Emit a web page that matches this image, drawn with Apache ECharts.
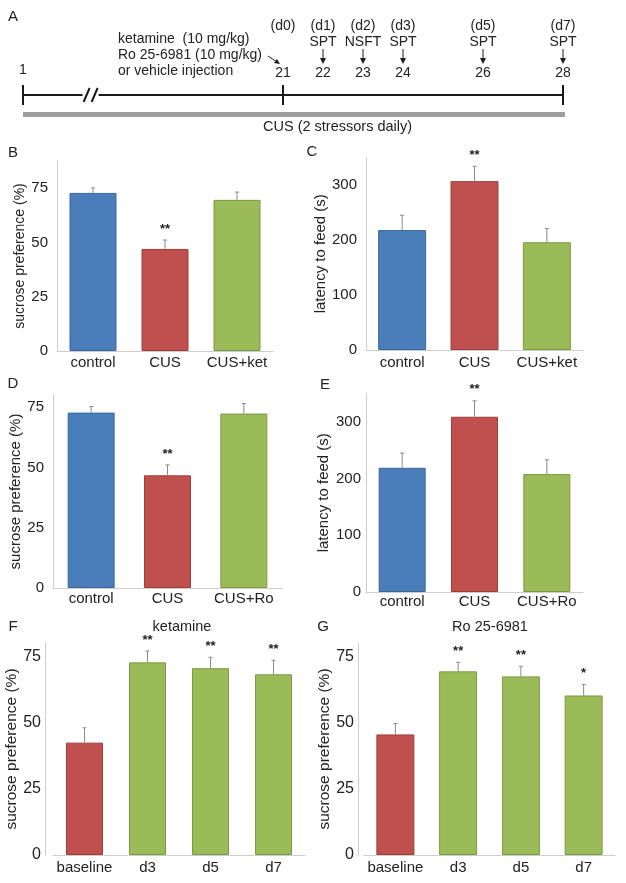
<!DOCTYPE html>
<html><head><meta charset="utf-8">
<script src="https://cdn.jsdelivr.net/npm/echarts@6/dist/echarts.min.js"></script>
<style>html,body{margin:0;padding:0;background:#fff}#c{width:626px;height:883px}</style>
</head><body><div id="c"></div>
<script>
// ---------------- data ----------------
const catsB = ['control', 'CUS', 'CUS+ket'];
const meansB = [72.8, 47.0, 69.6];
const semB = [2.3, 4.1, 3.6];
const starsB = ['', '**', ''];

const catsC = ['control', 'CUS', 'CUS+ket'];
const meansC = [218, 307, 196];
const semC = [27, 27, 25];
const starsC = ['', '**', ''];

const catsD = ['control', 'CUS', 'CUS+Ro'];
const meansD = [72.7, 46.7, 72.3];
const semD = [2.5, 4.3, 4.2];
const starsD = ['', '**', ''];

const catsE = ['control', 'CUS', 'CUS+Ro'];
const meansE = [219, 309, 208];
const semE = [26, 28, 25];
const starsE = ['', '**', ''];

const catsF = ['baseline', 'd3', 'd5', 'd7'];
const meansF = [42.4, 72.7, 70.5, 68.2];
const semF = [5.6, 4.3, 4.1, 5.3];
const starsF = ['', '**', '**', '**'];

const catsG = ['baseline', 'd3', 'd5', 'd7'];
const meansG = [45.5, 69.3, 67.4, 60.2];
const semG = [4.1, 3.4, 3.8, 4.2];
const starsG = ['', '**', '**', '*'];

const groupsBCDE = ['blue', 'red', 'green'];
const groupsFG = ['red', 'green', 'green', 'green'];

const yTicksPct = [0, 25, 50, 75];
const yTicksLat = [0, 100, 200, 300];

// timeline (panel A)
const tlFirstDay = 1;
const tlDays = [21, 22, 23, 24, 26, 28];
const tlDayLabels = ['(d0)', '(d1)', '(d2)', '(d3)', '(d5)', '(d7)'];
const tlTests = ['', 'SPT', 'NSFT', 'SPT', 'SPT', 'SPT'];
const tlInjection = ['ketamine  (10 mg/kg)', 'Ro 25-6981 (10 mg/kg)', 'or vehicle injection'];
const tlCus = 'CUS (2 stressors daily)';

// ---------------- styles ----------------
const FONT = '"Liberation Sans", Arial, Helvetica, sans-serif';
const TXT = '#222';
const AXIS = '#cdcdcd';
const PAL = {
  blue: { fill: '#4a7ebb', border: '#3b679c' },
  red: { fill: '#c0504d', border: '#9c3e3b' },
  green: { fill: '#9bbb59', border: '#7d9945' }
};

const panels = [
  { cats: catsB, means: meansB, sem: semB, stars: starsB, groups: groupsBCDE, ticks: yTicksPct, max: 87.5, step: 25,
    name: 'sucrose preference (%)', grid: { left: 57, top: 161, width: 216, height: 190 }, barWidth: 47,
    nameGap: 25, nameSize: 14, tickSize: 15, catSize: 15, labelMargin: 9, catMargin: 4, offset: 0 },
  { cats: catsC, means: meansC, sem: semC, stars: starsC, groups: groupsBCDE, ticks: yTicksLat, max: 350, step: 100,
    name: 'latency to feed (s)', grid: { left: 366, top: 157.5, width: 217, height: 192.5 }, barWidth: 48,
    nameGap: 30, nameSize: 15, tickSize: 15, catSize: 15, labelMargin: 9, catMargin: 5, offset: 0 },
  { cats: catsD, means: meansD, sem: semD, stars: starsD, groups: groupsBCDE, ticks: yTicksPct, max: 80, step: 25,
    name: 'sucrose preference (%)', grid: { left: 53, top: 395, width: 229, height: 193 }, barWidth: 47,
    nameGap: 30, nameSize: 15, tickSize: 15, catSize: 15, labelMargin: 9, catMargin: 3, offset: 0 },
  { cats: catsE, means: meansE, sem: semE, stars: starsE, groups: groupsBCDE, ticks: yTicksLat, max: 350, step: 100,
    name: 'latency to feed (s)', grid: { left: 366, top: 393.5, width: 217, height: 198.5 }, barWidth: 47,
    nameGap: 35, nameSize: 15, tickSize: 15, catSize: 15, labelMargin: 5, catMargin: 2, offset: 0 },
  { cats: catsF, means: meansF, sem: semF, stars: starsF, groups: groupsFG, ticks: yTicksPct, max: 80, step: 25,
    name: 'sucrose preference (%)', grid: { left: 53, top: 643, width: 252, height: 212 }, barWidth: 37,
    nameGap: 19, nameSize: 15.5, tickSize: 16, catSize: 15, labelMargin: 4, catMargin: 5, offset: 8 },
  { cats: catsG, means: meansG, sem: semG, stars: starsG, groups: groupsFG, ticks: yTicksPct, max: 80, step: 25,
    name: 'sucrose preference (%)', grid: { left: 364, top: 643, width: 251, height: 212 }, barWidth: 38,
    nameGap: 18, nameSize: 15.5, tickSize: 16, catSize: 15, labelMargin: 4, catMargin: 5, offset: 6 }
];

const grid = [], xAxis = [], yAxis = [], series = [];

panels.forEach((p, k) => {
  grid.push(Object.assign({ containLabel: false }, p.grid));
  xAxis.push({
    gridIndex: k, type: 'category', data: p.cats,
    axisLine: { show: true, lineStyle: { color: AXIS, width: 1 } },
    axisTick: { show: false },
    axisLabel: { interval: 0, fontSize: p.catSize, color: TXT, fontFamily: FONT, margin: p.catMargin }
  });
  yAxis.push({
    gridIndex: k, type: 'value', min: 0, max: p.max, interval: p.step, offset: p.offset,
    name: p.name, nameLocation: 'middle', nameGap: p.nameGap,
    nameTextStyle: { fontSize: p.nameSize, color: TXT, fontFamily: FONT },
    axisLine: { show: true, lineStyle: { color: AXIS, width: 1 } },
    axisTick: { show: false }, splitLine: { show: false },
    axisLabel: { fontSize: p.tickSize, color: TXT, fontFamily: FONT, margin: p.labelMargin,
      formatter: v => (p.ticks.indexOf(v) >= 0 ? String(v) : '') }
  });
  series.push({
    type: 'bar', xAxisIndex: k, yAxisIndex: k, barWidth: p.barWidth, silent: true,
    data: p.means.map((m, i) => ({ value: m, itemStyle: { color: PAL[p.groups[i]].fill, borderColor: PAL[p.groups[i]].border, borderWidth: 1 } }))
  });
  series.push({
    type: 'custom', xAxisIndex: k, yAxisIndex: k, z: 5, silent: true, clip: false,
    data: p.means.map((m, i) => [i, m, p.sem[i]]),
    renderItem: (params, api) => {
      const i = api.value(0), m = api.value(1), e = api.value(2);
      const a = api.coord([i, m]), b = api.coord([i, m + e]);
      const ch = [
        { type: 'line', shape: { x1: a[0], y1: a[1], x2: b[0], y2: b[1] }, style: { stroke: '#8a8a8a', lineWidth: 1 } },
        { type: 'line', shape: { x1: b[0] - 2, y1: b[1], x2: b[0] + 2, y2: b[1] }, style: { stroke: '#8a8a8a', lineWidth: 1 } }
      ];
      const s = p.stars[params.dataIndex];
      if (s) ch.push({ type: 'text', x: b[0], y: b[1] - 11,
        style: { text: s, fill: TXT, fontSize: 13, fontWeight: 'bold', fontFamily: FONT, align: 'center', verticalAlign: 'middle' } });
      return { type: 'group', children: ch };
    }
  });
});

// ---------------- panel A timeline ----------------
const gA = panels.length;
grid.push({ left: 23, top: 0, width: 540, height: 95 });
xAxis.push({ gridIndex: gA, type: 'value', min: 14.5, max: 28, show: false });
yAxis.push({ gridIndex: gA, type: 'value', min: 0, max: 1, show: false });

const LINE = '#1a1a1a';
function txt(x, y, s, align, size) {
  return { type: 'text', x: x, y: y, style: { text: s, fill: TXT, fontSize: size || 14, fontFamily: FONT, align: align || 'center', verticalAlign: 'middle' } };
}
function seg(x1, y1, x2, y2, w, c) {
  return { type: 'line', shape: { x1, y1, x2, y2 }, style: { stroke: c || LINE, lineWidth: w || 2 } };
}

series.push({
  type: 'custom', xAxisIndex: gA, yAxisIndex: gA, silent: true, clip: false,
  data: [[tlFirstDay, tlDays[0], tlDays[tlDays.length - 1]]],
  renderItem: (params, api) => {
    const cs = params.coordSys;
    const x1 = cs.x; // day 1, start of broken axis
    const x21 = api.coord([api.value(1), 0])[0];
    const xEnd = api.coord([api.value(2), 0])[0];
    const y0 = api.coord([api.value(1), 0])[1];
    const xb = x1 + (x21 - x1) * 0.26;
    const ch = [
      seg(x1, y0, xb - 8, y0),
      seg(xb - 7, y0 + 7, xb - 1, y0 - 7),
      seg(xb + 1, y0 + 7, xb + 7, y0 - 7),
      seg(xb + 8, y0, xEnd, y0),
      seg(x1, y0 - 10, x1, y0 + 10),
      seg(x21, y0 - 10, x21, y0 + 10),
      seg(xEnd, y0 - 10, xEnd, y0 + 10),
      { type: 'rect', shape: { x: x1, y: y0 + 17, width: xEnd - x1 + 2, height: 5 }, style: { fill: '#9d9d9d' } },
      txt(x1, y0 - 25, String(api.value(0))),
      txt(x21 - 20, y0 + 32, tlCus, 'left', 14.5),
      seg(x21 - 15, y0 - 39, x21 - 6, y0 - 33, 1),
      { type: 'polygon', shape: { points: [[x21 - 3, y0 - 31], [x21 - 9, y0 - 32], [x21 - 6, y0 - 36]] }, style: { fill: LINE } }
    ];
    tlInjection.forEach((s, i) => ch.push(txt(x1 + 95, y0 - 56 + i * 16, s, 'left', 14)));
    return { type: 'group', children: ch };
  }
});

series.push({
  type: 'custom', xAxisIndex: gA, yAxisIndex: gA, silent: true, clip: false,
  data: tlDays.map((d, i) => [d, i]),
  renderItem: (params, api) => {
    const i = params.dataIndex;
    const p = api.coord([api.value(0), 0]);
    const x = p[0], y0 = p[1];
    const ch = [
      txt(x, y0 - 69, tlDayLabels[i]),
      txt(x, y0 - 22, String(api.value(0)))
    ];
    if (tlTests[i]) {
      ch.push(txt(x, y0 - 53, tlTests[i]));
      ch.push(seg(x, y0 - 46, x, y0 - 35, 1));
      ch.push({ type: 'polygon', shape: { points: [[x - 3, y0 - 37], [x + 3, y0 - 37], [x, y0 - 31]] }, style: { fill: LINE } });
    }
    return { type: 'group', children: ch };
  }
});

// ---------------- panel letters & titles ----------------
function label(x, y, s, size) {
  return { type: 'text', x: x, y: y, silent: true,
    style: { text: s, fill: TXT, fontSize: size || 15, fontFamily: FONT, align: 'center', verticalAlign: 'middle' } };
}
const graphic = [
  label(13, 17, 'A'), label(13, 153, 'B'), label(312, 152, 'C'),
  label(13, 384, 'D'), label(325, 385, 'E'), label(13, 627, 'F'), label(323, 627, 'G'),
  label(182, 627, 'ketamine', 14.5), label(490, 627, 'Ro 25-6981', 14.5)
];

const chart = echarts.init(document.getElementById('c'), null, { renderer: 'canvas' });
chart.setOption({
  backgroundColor: '#fff', animation: false,
  textStyle: { fontFamily: FONT },
  grid, xAxis, yAxis, series, graphic
});
</script></body></html>
